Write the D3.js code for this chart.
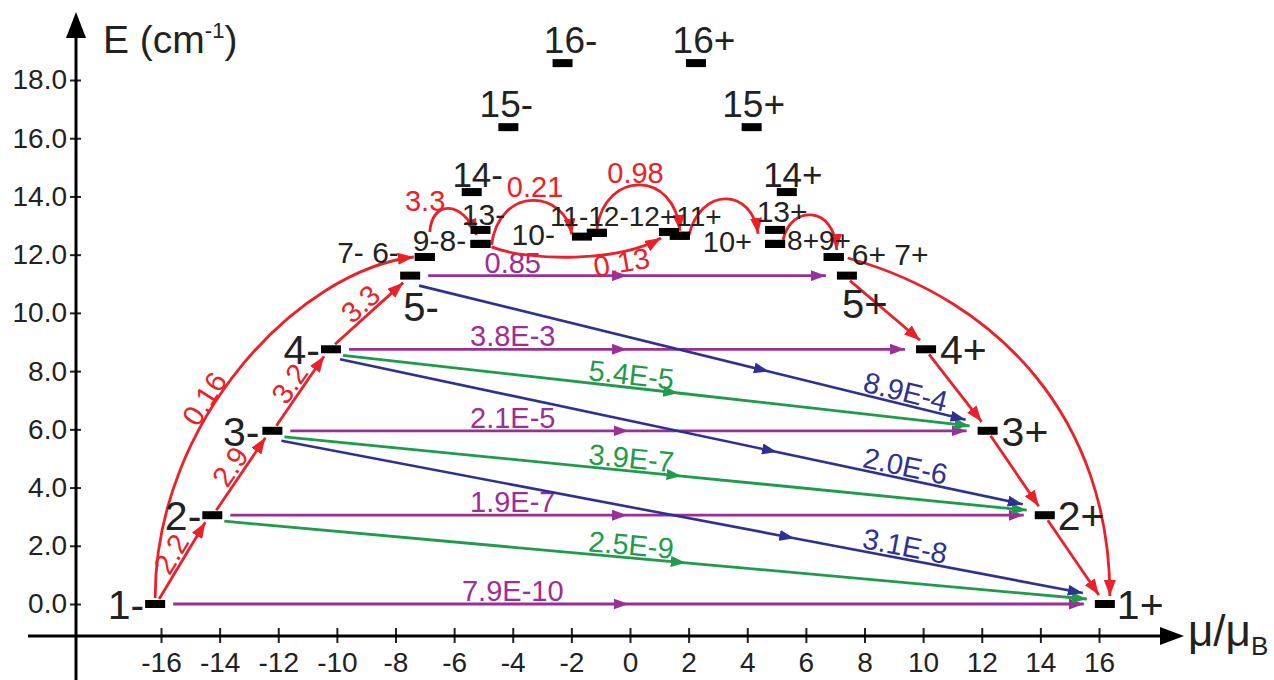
<!DOCTYPE html>
<html>
<head>
<meta charset="utf-8">
<script src="https://cdn.jsdelivr.net/npm/d3@7"></script>
<style>
  body { margin: 0; background: #fff; }
  svg { font-family: "Liberation Sans", Arial, sans-serif; }
</style>
</head>
<body>
<svg id="chart" width="1274" height="680"></svg>
<script>
// levels 1..16 on each side: magnetic moment (mu/muB) and energy (cm-1)
var levelNumbers = d3.range(1, 17);
var negMu = [-16.2, -14.25, -12.2, -10.2, -7.5, -7.0, -7.0, -5.1, -5.1, -1.64, -1.13, -1.13, -5.1, -5.4, -4.15, -2.3];
var negE  = [0, 3.05, 5.95, 8.75, 11.28, 11.92, 11.92, 12.37, 12.37, 12.62, 12.75, 12.75, 12.85, 14.15, 16.38, 18.58];
var posMu = [16.2, 14.15, 12.2, 10.1, 7.4, 6.95, 6.95, 4.95, 4.95, 1.7, 1.7, 1.33, 4.95, 5.35, 4.15, 2.25];
var posE  = [0, 3.05, 5.95, 8.75, 11.28, 11.92, 11.92, 12.37, 12.37, 12.65, 12.65, 12.78, 12.85, 14.15, 16.38, 18.58];

// axis ticks
var muTicks = d3.range(-16, 17, 2);
var eTicks = d3.range(0, 19, 2);

// level tags and the level each one sits at
var tagText  = ["1-", "2-", "3-", "4-", "5-", "1+", "2+", "3+", "4+", "5+", "7- 6-", "6+ 7+", "9-8-", "13-", "14-", "15-", "16-",
                "13+", "14+", "15+", "16+", "10-", "11-12-12+11+", "10+", "8+9+"];
var tagLevel = ["1-", "2-", "3-", "4-", "5-", "1+", "2+", "3+", "4+", "5+", "6-", "6+", "6-", "13-", "14-", "15-", "16-",
                "13+", "14+", "15+", "16+", "10-", "11-", "11+", "8+"];

// transitions (rates)
var purpleFrom = ["1-", "2-", "3-", "4-", "5-"];
var purpleTo   = ["1+", "2+", "3+", "4+", "5+"];
var purpleRate = ["7.9E-10", "1.9E-7", "2.1E-5", "3.8E-3", "0.85"];

var greenFrom = ["2-", "3-", "4-"];
var greenTo   = ["1+", "2+", "3+"];
var greenRate = ["2.5E-9", "3.9E-7", "5.4E-5"];

var blueFrom = ["3-", "4-", "5-"];
var blueTo   = ["1+", "2+", "3+"];
var blueRate = ["3.1E-8", "2.0E-6", "8.9E-4"];

var redStepFrom = ["1-", "2-", "3-", "4-", "5+", "4+", "3+", "2+"];
var redStepTo   = ["2-", "3-", "4-", "5-", "4+", "3+", "2+", "1+"];
var redStepRate = ["2.2", "2.9", "3.2", "3.3", "", "", "", ""];

var redArcFrom = ["1-", "6+", "6-", "8-", "8-", "11-", "11+", "8+"];
var redArcTo   = ["6-", "1+", "13-", "10-", "12+", "11+", "13+", "6+"];
var redArcRate = ["0.16", "", "3.3", "0.21", "0.13", "0.98", "", ""];

var svg = d3.select('#chart');
var x = d3.scaleLinear().domain([-16, 16]).range([161, 1099]);
var y = d3.scaleLinear().domain([0, 18]).range([604, 80]);

var red = '#ec2028', purple = '#9b2e97', green = '#1e9b4b', blue = '#2e3192', ink = '#222';

var lv = {};
levelNumbers.forEach(function(n, i) {
  lv[n + '-'] = {x: x(negMu[i]), y: y(negE[i])};
  lv[n + '+'] = {x: x(posMu[i]), y: y(posE[i])};
});

// arrow markers
var defs = svg.append('defs');
[['red', red, 16, 12], ['purple', purple, 15, 11], ['green', green, 15, 11], ['blue', blue, 15, 11]].forEach(function(m) {
  defs.append('marker')
    .attr('id', 'arr-' + m[0])
    .attr('viewBox', '0 -' + m[3] / 2 + ' ' + m[2] + ' ' + m[3])
    .attr('refX', m[2]).attr('refY', 0)
    .attr('markerWidth', m[2]).attr('markerHeight', m[3])
    .attr('markerUnits', 'userSpaceOnUse')
    .attr('orient', 'auto')
    .append('path')
    .attr('d', 'M0,-' + m[3] / 2 + 'L' + m[2] + ',0L0,' + m[3] / 2 + 'Z')
    .attr('fill', m[1]);
});

// axes
var yAxis = d3.axisLeft(y).tickValues(eTicks).tickFormat(d3.format('.1f')).tickSize(6).tickPadding(3);
var gy = svg.append('g').attr('transform', 'translate(76,0)').call(yAxis);
gy.select('.domain').remove();
gy.selectAll('.tick line').attr('x1', 5).attr('stroke', ink).attr('stroke-width', 2);
gy.selectAll('.tick text').attr('font-size', 28).attr('fill', ink).attr('font-family', null);

var xAxis = d3.axisBottom(x).tickValues(muTicks).tickFormat(function(d) { return String(d); }).tickSize(7).tickPadding(9);
var gx = svg.append('g').attr('transform', 'translate(0,636)').call(xAxis);
gx.select('.domain').remove();
gx.selectAll('.tick line').attr('y1', -8).attr('stroke', ink).attr('stroke-width', 2);
gx.selectAll('.tick text').attr('font-size', 28).attr('fill', ink).attr('font-family', null);

svg.append('line').attr('x1', 76).attr('y1', 680).attr('x2', 76).attr('y2', 34)
  .attr('stroke', '#000').attr('stroke-width', 3);
svg.append('path').attr('d', 'M76,12L66,38L86,38Z').attr('fill', '#000');
svg.append('line').attr('x1', 28).attr('y1', 636).attr('x2', 1164).attr('y2', 636)
  .attr('stroke', '#000').attr('stroke-width', 3);
svg.append('path').attr('d', 'M1184,636L1160,627L1160,645Z').attr('fill', '#000');

var yl = svg.append('text').attr('x', 103).attr('y', 53).attr('font-size', 39).attr('fill', ink);
yl.append('tspan').text('E (cm');
yl.append('tspan').attr('font-size', 22).attr('dy', -15).text('-1');
yl.append('tspan').attr('dy', 15).text(')');

var xl = svg.append('text').attr('x', 1188).attr('y', 646).attr('font-size', 44).attr('fill', ink);
xl.append('tspan').text('\u03bc/\u03bc');
xl.append('tspan').attr('font-size', 26).attr('dy', 9).text('B');

// straight transitions with a mid arrow
function straight(from, to, so, eo, color, name, midT, width) {
  var a = lv[from], b = lv[to];
  var x0 = a.x + so[0], y0 = a.y + so[1], x1 = b.x + eo[0], y1 = b.y + eo[1];
  var xm = x0 + (x1 - x0) * midT, ym = y0 + (y1 - y0) * midT;
  svg.append('path')
    .attr('d', midT ? 'M' + x0 + ',' + y0 + 'L' + xm + ',' + ym + 'L' + x1 + ',' + y1 : 'M' + x0 + ',' + y0 + 'L' + x1 + ',' + y1)
    .attr('fill', 'none').attr('stroke', color).attr('stroke-width', width)
    .attr('marker-mid', midT ? 'url(#arr-' + name + ')' : null)
    .attr('marker-end', 'url(#arr-' + name + ')');
  return {x0: x0, y0: y0, x1: x1, y1: y1};
}

function lineLabel(seg, t, off, text, color, size, rotate) {
  var dx = seg.x1 - seg.x0, dy = seg.y1 - seg.y0, L = Math.sqrt(dx * dx + dy * dy);
  var cx = seg.x0 + dx * t + off * dy / L, cy = seg.y0 + dy * t - off * dx / L;
  var ang = rotate ? Math.atan2(dy, dx) * 180 / Math.PI : 0;
  svg.append('text')
    .attr('transform', 'translate(' + cx + ',' + cy + ') rotate(' + ang + ')')
    .attr('text-anchor', 'middle').attr('dy', '0.35em')
    .attr('font-size', size).attr('fill', color)
    .text(text);
}

purpleFrom.forEach(function(f, i) {
  var s = straight(f, purpleTo[i], [18, 0], [-21, 0], purple, 'purple', 0.5, 2.8);
  lineLabel(s, (x(-4) - s.x0) / (s.x1 - s.x0), 13, purpleRate[i], purple, 29, false);
});

greenFrom.forEach(function(f, i) {
  var s = straight(f, greenTo[i], [12, 6], [-18, -5], green, 'green', 0.535, 2.8);
  lineLabel(s, (x(0) - s.x0) / (s.x1 - s.x0), 13, greenRate[i], green, 29, true);
});

blueFrom.forEach(function(f, i) {
  var s = straight(f, blueTo[i], [9, 10], [-22, -11], blue, 'blue', 0.64, 2.6);
  lineLabel(s, (x(9.3) - s.x0) / (s.x1 - s.x0), 13, blueRate[i], blue, 29, true);
});

redStepFrom.forEach(function(f, i) {
  var up = lv[redStepTo[i]].y < lv[f].y;
  var s = straight(f, redStepTo[i], up ? [4, -5] : [3, 5], up ? [-7, 7] : [-6, -9], red, 'red', 0, 2.8);
  if (redStepRate[i]) lineLabel(s, 0.5, 13, redStepRate[i], red, 29, true);
});

// curved red transitions: start / end offsets from the boxes and bezier handles
var arcShape = [
  {s: [0, -6], e: [-11, 0], c1: [0, -178], c2: [-114, 13], t: 0.4, lab: [-9, -6], rot: 'along'},
  {s: [14, 1], e: [5, -8], c1: [152, 42], c2: [0, -176]},
  {s: [5, -25], e: [-4, 5], c1: [2, -32], c2: [-14, -35], t: 0.3, lab: [-13, -11]},
  {s: [11, 1], e: [-10, -2], c1: [8, -60], c2: [-7, -45], t: 0.5, lab: [3, -14]},
  {s: [11, 3], e: [-8, 6], c1: [38, 15], c2: [-41, 24], t: 0.7, lab: [8, 9], rot: -10},
  {s: [0, -4], e: [0, -5], c1: [8, -59], c2: [-5, -61], t: 0.5, lab: [-4, -12]},
  {s: [9, 0], e: [-17, 4], c1: [11, -49], c2: [-6, -47]},
  {s: [8, -4], e: [3, -7], c1: [7, -35], c2: [-2, -45]}
];

redArcFrom.forEach(function(f, i) {
  var sh = arcShape[i], a = lv[f], b = lv[redArcTo[i]];
  var p0 = [a.x + sh.s[0], a.y + sh.s[1]], p3 = [b.x + sh.e[0], b.y + sh.e[1]];
  var p1 = [p0[0] + sh.c1[0], p0[1] + sh.c1[1]], p2 = [p3[0] + sh.c2[0], p3[1] + sh.c2[1]];
  var path = d3.path();
  path.moveTo(p0[0], p0[1]);
  path.bezierCurveTo(p1[0], p1[1], p2[0], p2[1], p3[0], p3[1]);
  svg.append('path').attr('d', path.toString())
    .attr('fill', 'none').attr('stroke', red).attr('stroke-width', 2.8)
    .attr('marker-end', 'url(#arr-red)');
  if (!redArcRate[i]) return;
  var t = sh.t, m = 1 - t;
  var px = m * m * m * p0[0] + 3 * m * m * t * p1[0] + 3 * m * t * t * p2[0] + t * t * t * p3[0];
  var py = m * m * m * p0[1] + 3 * m * m * t * p1[1] + 3 * m * t * t * p2[1] + t * t * t * p3[1];
  var ang = 0;
  if (sh.rot === 'along') {
    var tx = 3 * (m * m * (p1[0] - p0[0]) + 2 * m * t * (p2[0] - p1[0]) + t * t * (p3[0] - p2[0]));
    var ty = 3 * (m * m * (p1[1] - p0[1]) + 2 * m * t * (p2[1] - p1[1]) + t * t * (p3[1] - p2[1]));
    ang = Math.atan2(ty, tx) * 180 / Math.PI;
  } else if (sh.rot) {
    ang = sh.rot;
  }
  svg.append('text')
    .attr('transform', 'translate(' + (px + sh.lab[0]) + ',' + (py + sh.lab[1]) + ') rotate(' + ang + ')')
    .attr('text-anchor', 'middle').attr('dy', '0.35em')
    .attr('font-size', 29).attr('fill', red)
    .text(redArcRate[i]);
});

// level boxes
svg.append('g').selectAll('rect')
  .data(Object.keys(lv))
  .enter().append('rect')
  .attr('x', function(d) { return lv[d].x - 10; })
  .attr('y', function(d) { return lv[d].y - 4; })
  .attr('width', 20).attr('height', 8)
  .attr('fill', '#000');

// tag placement: anchor, dx, baseline dy, font size
var tagPlace = [
  ['end', -11, 15, 41], ['end', -11, 15, 41], ['end', -13, 15, 41], ['end', -11, 15, 41], ['start', -7, 45, 40],
  ['start', 12, 15, 41], ['start', 13, 15, 41], ['start', 14, 15, 41], ['start', 14, 15, 41], ['start', -5, 42, 40],
  ['end', -26, 6, 30], ['start', 18, 8, 30], ['start', -12, -6, 30], ['middle', 3, -5, 30],
  ['middle', 6, -5, 35], ['middle', -2, -10, 37], ['middle', 8, -10, 37],
  ['middle', 7, -8, 30], ['middle', 6, -5, 35], ['middle', 2, -10, 37], ['middle', 8, -10, 37],
  ['end', -27, 8, 30], ['start', -47, -7, 28], ['start', 23, 16, 29], ['start', 12, 6, 28]
];

tagText.forEach(function(t, i) {
  var p = tagPlace[i], b = lv[tagLevel[i]];
  svg.append('text')
    .attr('x', b.x + p[1]).attr('y', b.y + p[2])
    .attr('text-anchor', p[0]).attr('font-size', p[3]).attr('fill', ink)
    .text(t);
});
</script>
</body>
</html>
